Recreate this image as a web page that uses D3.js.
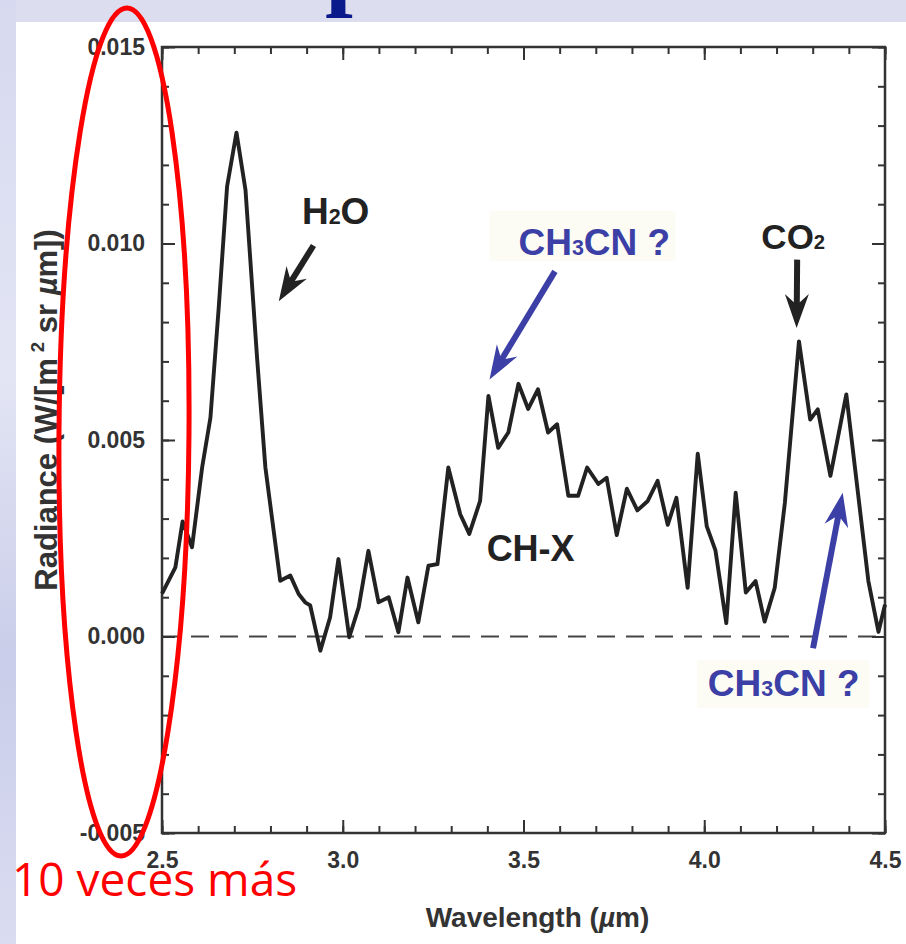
<!DOCTYPE html>
<html>
<head>
<meta charset="utf-8">
<!-- Load d3.js -->
<script src="https://d3js.org/d3.v7.min.js"></script>
<style>
  body { margin: 0; background: #dcdef0; }
</style>
</head>
<body>
<div id="my_dataviz"></div>
<script>

// spectrum
var wavelength = [2.500, 2.537, 2.557, 2.583, 2.611, 2.634, 2.657, 2.680, 2.706, 2.731,
                  2.763, 2.786, 2.827, 2.855, 2.878, 2.896, 2.910, 2.938, 2.965, 2.988,
                  3.018, 3.044, 3.071, 3.099, 3.127, 3.154, 3.179, 3.209, 3.237, 3.262,
                  3.292, 3.325, 3.350, 3.380, 3.403, 3.430, 3.458, 3.486, 3.513, 3.540,
                  3.568, 3.593, 3.624, 3.651, 3.676, 3.707, 3.730, 3.758, 3.786, 3.815,
                  3.843, 3.871, 3.899, 3.923, 3.954, 3.982, 4.007, 4.031, 4.061, 4.087,
                  4.115, 4.142, 4.167, 4.195, 4.223, 4.262, 4.293, 4.314, 4.349, 4.393,
                  4.454, 4.482, 4.500];
var radiance = [0.00109, 0.00176, 0.00293, 0.00227, 0.00430, 0.00557, 0.00838, 0.01145, 0.01282, 0.01136,
                0.00709, 0.00430, 0.00142, 0.00155, 0.00108, 0.00087, 0.00079, -0.00036, 0.00049, 0.00197,
                -0.00002, 0.00074, 0.00218, 0.00087, 0.00100, 0.00011, 0.00150, 0.00036, 0.00180, 0.00184,
                0.00430, 0.00311, 0.00261, 0.00345, 0.00612, 0.00480, 0.00519, 0.00643, 0.00579, 0.00629,
                0.00519, 0.00540, 0.00358, 0.00358, 0.00430, 0.00388, 0.00404, 0.00258, 0.00376, 0.00321,
                0.00344, 0.00396, 0.00284, 0.00353, 0.00124, 0.00465, 0.00280, 0.00219, 0.00034, 0.00366,
                0.00112, 0.00141, 0.00038, 0.00124, 0.00340, 0.00751, 0.00552, 0.00578, 0.00409, 0.00616,
                0.00141, 0.00012, 0.00081];

// tick labels
var xTicks = [2.5, 3.0, 3.5, 4.0, 4.5];
var yTicks = [-0.005, 0.000, 0.005, 0.010, 0.015];

// annotations (data units): label position, arrow tail, arrow tip
var labelNames  = ["H2O", "CH3CN ?", "CO2", "CH-X", "CH3CN ?"];
var labelX      = [2.887, 3.486, 4.158, 3.398, 4.010];
var labelY      = [0.01049, 0.00971, 0.00987, 0.00193, -0.00152];
var labelSize   = [37, 37, 35, 36, 37];
var labelColor  = ["#222", "#3b3fa6", "#222", "#222", "#3b3fa6"];
var arrowTail   = [[2.919, 0.00995], [3.587, 0.00929], [4.257, 0.00959], [4.301, -0.00030]];
var arrowTip    = [[2.823, 0.00853], [3.406, 0.00654], [4.2555, 0.00785], [4.383, 0.00366]];
var arrowColor  = ["#222", "#3b3fa6", "#222", "#3b3fa6"];

// set the dimensions and margins of the graph
var W = 906, H = 944;
var margin = {top: 47, right: 21, bottom: 111, left: 162},
    width = W - margin.left - margin.right,
    height = H - margin.top - margin.bottom;

var root = d3.select("#my_dataviz")
  .append("svg")
    .attr("width", W)
    .attr("height", H)
    .style("display", "block");

// slide background
var defs = root.append("defs");
var grad = defs.append("linearGradient").attr("id", "strip")
    .attr("x1", 0).attr("y1", 0).attr("x2", 0).attr("y2", 1);
grad.append("stop").attr("offset", "0%").attr("stop-color", "#d6d9ef");
grad.append("stop").attr("offset", "40%").attr("stop-color", "#e3e5f4");
grad.append("stop").attr("offset", "70%").attr("stop-color", "#c9cde9");
grad.append("stop").attr("offset", "100%").attr("stop-color", "#dadcf1");

root.append("rect").attr("width", W).attr("height", H).attr("fill", "#dcdef0");
root.append("rect").attr("width", 16).attr("height", H).attr("fill", "url(#strip)");

// bit of the slide title peeking in
root.append("text")
  .attr("x", 325).attr("y", -3)
  .style("font-family", "'Liberation Serif', serif")
  .style("font-weight", "bold")
  .style("font-size", "100px")
  .attr("fill", "#0b1a8a")
  .text("p");

// white figure area
root.append("rect").attr("x", 16).attr("y", 22).attr("width", W - 16).attr("height", H - 22).attr("fill", "#ffffff");

var svg = root.append("g")
  .attr("transform", "translate(" + margin.left + "," + margin.top + ")");

// scales
var x = d3.scaleLinear().domain([2.5, 4.5]).range([0, width]);
var y = d3.scaleLinear().domain([-0.005, 0.015]).range([height, 0]);

var axisFont = "'Liberation Sans', Arial, sans-serif";

// faint label boxes
svg.append("rect").attr("x", x(3.406)).attr("y", y(0.01083)).attr("width", 186).attr("height", 50).attr("fill", "#fcfcf5");
svg.append("rect").attr("x", x(3.98)).attr("y", y(-0.00060)).attr("width", 172).attr("height", 48).attr("fill", "#fcfcf5");

// zero line
svg.append("line")
  .attr("x1", 0).attr("x2", width)
  .attr("y1", y(0)).attr("y2", y(0))
  .attr("stroke", "#444")
  .attr("stroke-width", 2)
  .attr("stroke-dasharray", "18,11");

// axes: major and minor ticks, all pointing inward
var xMinor = d3.range(25, 46).map(function(d){ return d / 10; });
var yMinor = d3.range(-5, 16).map(function(d){ return d / 1000; });

function styleAxis(g) {
  g.select(".domain").remove();
  g.selectAll("line").attr("stroke", "#333").attr("stroke-width", 2);
  g.selectAll("text")
    .style("font-family", axisFont)
    .style("font-weight", "bold")
    .style("font-size", "23px")
    .attr("fill", "#333");
}

// bottom
svg.append("g").attr("transform", "translate(0," + height + ")")
  .call(d3.axisBottom(x).tickValues(xMinor).tickSize(-7).tickFormat(""))
  .call(styleAxis);
svg.append("g").attr("transform", "translate(0," + height + ")")
  .call(d3.axisBottom(x).tickValues(xTicks).tickSize(-13).tickPadding(19).tickFormat(d3.format(".1f")))
  .call(styleAxis);
// top
svg.append("g")
  .call(d3.axisTop(x).tickValues(xMinor).tickSize(-7).tickFormat(""))
  .call(styleAxis);
svg.append("g")
  .call(d3.axisTop(x).tickValues(xTicks).tickSize(-13).tickFormat(""))
  .call(styleAxis);
// left
svg.append("g")
  .call(d3.axisLeft(y).tickValues(yMinor).tickSize(-7).tickFormat(""))
  .call(styleAxis);
svg.append("g")
  .call(d3.axisLeft(y).tickValues(yTicks).tickSize(-13).tickPadding(17)
    .tickFormat(function(d){ return d3.format(".3f")(d).replace("\u2212", "-"); }))
  .call(styleAxis);
// right
svg.append("g").attr("transform", "translate(" + width + ",0)")
  .call(d3.axisRight(y).tickValues(yMinor).tickSize(-7).tickFormat(""))
  .call(styleAxis);
svg.append("g").attr("transform", "translate(" + width + ",0)")
  .call(d3.axisRight(y).tickValues(yTicks).tickSize(-13).tickFormat(""))
  .call(styleAxis);

// frame
svg.append("rect")
  .attr("width", width).attr("height", height)
  .attr("fill", "none")
  .attr("stroke", "#333")
  .attr("stroke-width", 2.5);

// the spectrum
var points = wavelength.map(function(d, i){ return [d, radiance[i]]; });
svg.append("path")
  .datum(points)
  .attr("fill", "none")
  .attr("stroke", "#222")
  .attr("stroke-width", 3.9)
  .attr("stroke-linejoin", "round")
  .attr("d", d3.line()
    .x(function(d){ return x(d[0]); })
    .y(function(d){ return y(d[1]); }));

// arrows
arrowTail.forEach(function(t, i) {
  var x0 = x(t[0]), y0 = y(t[1]);
  var x1 = x(arrowTip[i][0]), y1 = y(arrowTip[i][1]);
  var len = Math.hypot(x1 - x0, y1 - y0);
  var ux = (x1 - x0) / len, uy = (y1 - y0) / len;
  var nx = -uy, ny = ux;
  var L = 34, Wd = 12;
  svg.append("line")
    .attr("x1", x0).attr("y1", y0)
    .attr("x2", x1 - ux * L * 0.6).attr("y2", y1 - uy * L * 0.6)
    .attr("stroke", arrowColor[i])
    .attr("stroke-width", 6);
  var head = [
    [x1, y1],
    [x1 - ux * L + nx * Wd, y1 - uy * L + ny * Wd],
    [x1 - ux * L * 0.68, y1 - uy * L * 0.68],
    [x1 - ux * L - nx * Wd, y1 - uy * L - ny * Wd]
  ];
  svg.append("path")
    .attr("d", "M" + head.join("L") + "Z")
    .attr("fill", arrowColor[i]);
});

// labels with subscripts
labelNames.forEach(function(name, i) {
  var t = svg.append("text")
    .attr("x", x(labelX[i]))
    .attr("y", y(labelY[i]))
    .style("font-family", axisFont)
    .style("font-weight", "bold")
    .style("font-size", labelSize[i] + "px")
    .attr("fill", labelColor[i]);
  name.split(/(\d)/).forEach(function(part) {
    if (part === "") return;
    var s = t.append("tspan").text(part);
    if (/\d/.test(part)) s.style("font-size", "58%");
  });
});

// axis titles
svg.append("text")
  .attr("x", width / 2 + 14)
  .attr("y", height + 94)
  .attr("text-anchor", "middle")
  .style("font-family", axisFont)
  .style("font-weight", "bold")
  .style("font-size", "28px")
  .attr("fill", "#333")
  .call(function(t) {
    t.append("tspan").text("Wavelength (");
    t.append("tspan").style("font-style", "italic").text("µ");
    t.append("tspan").text("m)");
  });

var yl = svg.append("text")
  .attr("transform", "translate(" + (57 - margin.left) + "," + (410 - margin.top) + ") rotate(-90)")
  .attr("text-anchor", "middle")
  .style("font-family", axisFont)
  .style("font-weight", "bold")
  .style("font-size", "31px")
  .attr("fill", "#333");
yl.append("tspan").text("Radiance (W/[m");
yl.append("tspan").attr("dx", 6).attr("dy", -13).style("font-size", "60%").text("2");
yl.append("tspan").attr("dy", 13).text(" sr ");
yl.append("tspan").style("font-style", "italic").text("µ");
yl.append("tspan").text("m])");

// red highlight
root.append("ellipse")
  .attr("cx", 124).attr("cy", 432)
  .attr("rx", 65).attr("ry", 424)
  .attr("transform", "rotate(0.4,124,432)")
  .attr("fill", "none")
  .attr("stroke", "#ff0000")
  .attr("stroke-width", 5);

root.append("text")
  .attr("x", 12).attr("y", 896)
  .style("font-family", "'Open Sans', sans-serif")
  .style("font-size", "46px")
  .attr("fill", "#ff0000")
  .text("10 veces más");

</script>
</body>
</html>
